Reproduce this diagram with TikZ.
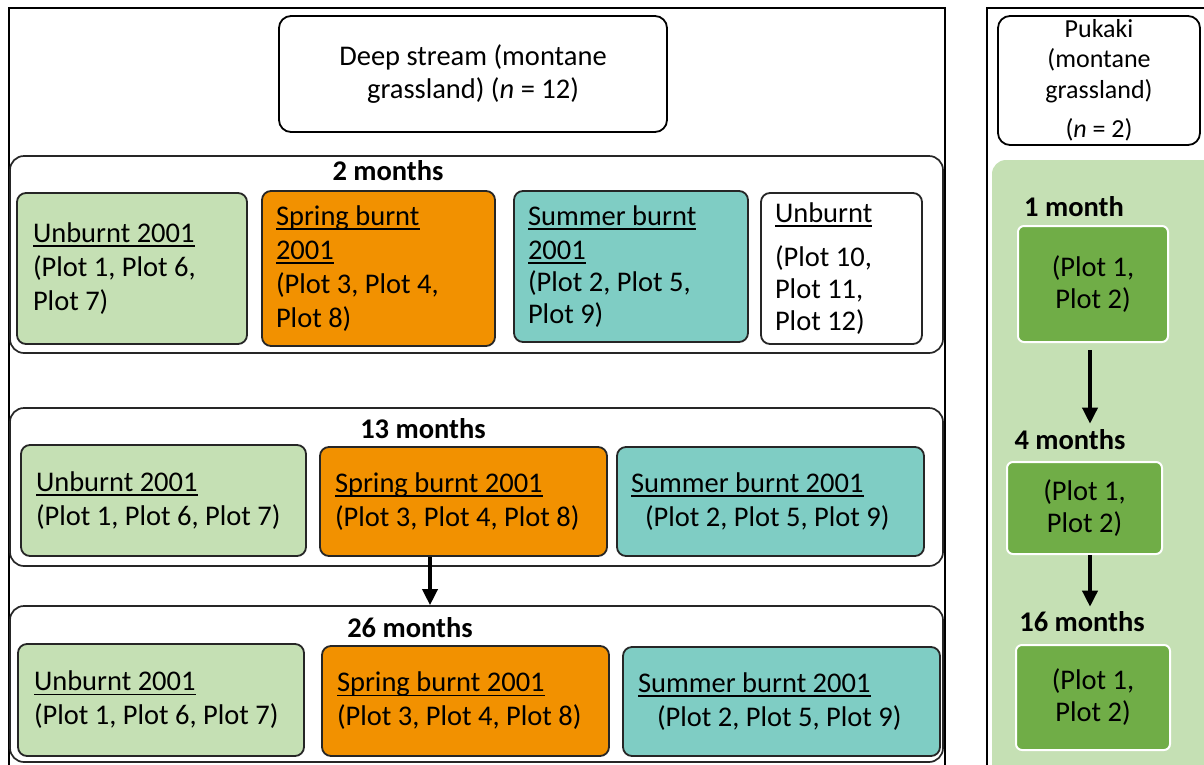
\documentclass[tikz,border=0pt]{standalone}
\usepackage{fontspec}
\setmainfont{Carlito}
\usetikzlibrary{arrows.meta,calc}
\definecolor{lgreen}{HTML}{C5E0B4}
\definecolor{dgreen}{HTML}{70AD47}
\definecolor{sorange}{HTML}{F29100}
\definecolor{steal}{HTML}{7FCDC4}
% underline drawn just below the baseline, crossing the descenders
\newsavebox{\ulbox}
\newcommand{\plotul}[1]{\sbox{\ulbox}{#1}\rlap{\rule[-4.5pt]{\wd\ulbox}{1.6pt}}\usebox{\ulbox}}
\begin{document}
\begin{tikzpicture}[x=1pt,y=-1pt,
  frame/.style={draw=black,line width=2.2pt},
  band/.style={draw=black!85,line width=1.7pt,rounded corners=14pt,fill=white,inner sep=0pt},
  plotbox/.style={draw=black!85,line width=1.8pt,rounded corners=9pt,inner ysep=0pt,
    align=flush left,font=\fontsize{28.5}{34}\selectfont},
  headbox/.style={draw=black,line width=1.8pt,rounded corners=12pt,fill=white,align=center,inner sep=0pt},
  pukbox/.style={draw=white,line width=2pt,rounded corners=6pt,fill=dgreen,align=center,inner sep=0pt,
    font=\fontsize{28.5}{32}\selectfont},
  period/.style={font=\fontsize{28.5}{34}\selectfont\bfseries,inner sep=0pt},
  flow/.style={line width=3.6pt,-{Triangle[length=16pt,width=15pt]}}
]
\useasboundingbox (0,0) rectangle (1204,764);

% outer frames
\draw[frame] (9,780) -- (9,8) -- (945,8) -- (945,780);
\draw[frame] (987,780) -- (987,8) -- (1220,8) -- (1220,780);

% Pukaki panel background
\fill[lgreen,rounded corners=14pt] (992,780) -- (992,160) -- (1230,160) -- (1230,780);

% header boxes
\node[headbox,minimum width=388pt,minimum height=116pt,font=\fontsize{28.5}{33}\selectfont]
  (deep) at (473,74) {Deep stream (montane\\grassland) (\textit{n} = 12)};
\node[headbox,minimum width=202pt,minimum height=129pt,font=\fontsize{26}{30.5}\selectfont]
  (puk) at (1099,80.5) {Pukaki\\(montane\\grassland)\\[9pt](\textit{n} = 2)};

% time bands of the Deep stream site
\node[band,minimum width=933pt,minimum height=197pt] (b1) at (476.5,254.5) {};
\node[band,minimum width=933pt,minimum height=158pt] (b2) at (476.5,487) {};
\node[band,minimum width=933pt,minimum height=156pt] (b3) at (476.5,684) {};

\node[period] (l2) at (388,171) {2 months};
\node[period] (l13) at (423,429) {13 months};
\node[period] (l26) at (410,628) {26 months};

% 2 months
\node[plotbox,fill=lgreen,minimum width=230pt,minimum height=151pt,inner xsep=16pt,text width=198pt]
  (g1) at (132,268.5) {\mbox{\plotul{Unburnt 2001}}\\\mbox{(Plot 1, Plot 6,}\\\mbox{Plot 7)}};
\node[plotbox,fill=sorange,minimum width=233pt,minimum height=155pt,inner xsep=14pt,text width=205pt]
  (o1) at (378.5,268.5) {\mbox{\plotul{Spring burnt}}\\\mbox{\plotul{2001}}\\\mbox{(Plot 3, Plot 4,}\\\mbox{Plot 8)}};
\node[plotbox,fill=steal,minimum width=234pt,minimum height=151pt,inner xsep=14pt,text width=206pt]
  (t1) at (631,266.5) {\mbox{\plotul{Summer burnt}}\\\mbox{\plotul{2001}}\\[-2pt]\mbox{(Plot 2, Plot 5,}\\[-2pt]\mbox{Plot 9)}};
\node[plotbox,fill=white,minimum width=161pt,minimum height=151pt,inner xsep=14pt,text width=133pt]
  (w1) at (841.5,268.5) {\mbox{\plotul{Unburnt}}\\[10pt]\mbox{(Plot 10,}\\[-2pt]\mbox{Plot 11,}\\[-2pt]\mbox{Plot 12)}};

% 13 months
\node[plotbox,fill=lgreen,minimum width=285pt,minimum height=111pt,inner xsep=15pt,text width=255pt]
  (g2) at (163.5,500.5) {\mbox{\plotul{Unburnt 2001}}\\\mbox{(Plot 1, Plot 6, Plot 7)}};
\node[plotbox,fill=sorange,minimum width=287pt,minimum height=109pt,inner xsep=15pt,text width=257pt]
  (o2) at (463.5,501.5) {\mbox{\plotul{Spring burnt 2001}}\\\mbox{(Plot 3, Plot 4, Plot 8)}};
\node[plotbox,fill=steal,minimum width=307pt,minimum height=109pt,inner xsep=14pt,text width=279pt]
  (t2) at (770.5,501.5) {\mbox{\plotul{Summer burnt 2001}}\\\mbox{\hspace*{14pt}(Plot 2, Plot 5, Plot 9)}};

% 26 months
\node[plotbox,fill=lgreen,minimum width=286pt,minimum height=112pt,inner xsep=16pt,text width=254pt]
  (g3) at (161,700) {\mbox{\plotul{Unburnt 2001}}\\\mbox{(Plot 1, Plot 6, Plot 7)}};
\node[plotbox,fill=sorange,minimum width=287pt,minimum height=110pt,inner xsep=15pt,text width=257pt]
  (o3) at (465.5,701) {\mbox{\plotul{Spring burnt 2001}}\\\mbox{(Plot 3, Plot 4, Plot 8)}};
\node[plotbox,fill=steal,minimum width=317pt,minimum height=109pt,inner xsep=15pt,text width=287pt]
  (t3) at (781.5,701.5) {\mbox{\plotul{Summer burnt 2001}}\\\mbox{\hspace*{19pt}(Plot 2, Plot 5, Plot 9)}};

\coordinate (ax) at (430,0);
\draw[flow] (o2.south -| ax) -- (b3.north -| ax);

% Pukaki sampling times
\node[period] (r1) at (1074,207) {1 month};
\node[period] (r4) at (1070,440) {4 months};
\node[period] (r16) at (1082,622) {16 months};

\node[pukbox,minimum width=150pt,minimum height=116pt] (p1) at (1093,284) {(Plot 1,\\Plot 2)};
\node[pukbox,minimum width=155pt,minimum height=92pt] (p2) at (1084.5,508) {(Plot 1,\\Plot 2)};
\node[pukbox,minimum width=154pt,minimum height=105pt] (p3) at (1093,697.5) {(Plot 1,\\Plot 2)};

% vertical shifts are canvas lengths: positive moves upwards here
\coordinate (bx) at (1090,0);
\draw[flow] ([yshift=-7pt]p1.south -| bx) -- ([yshift=6pt]r4.north -| bx);
\draw[flow] (p2.south -| bx) -- ([yshift=5pt]r16.north -| bx);
\end{tikzpicture}
\end{document}
